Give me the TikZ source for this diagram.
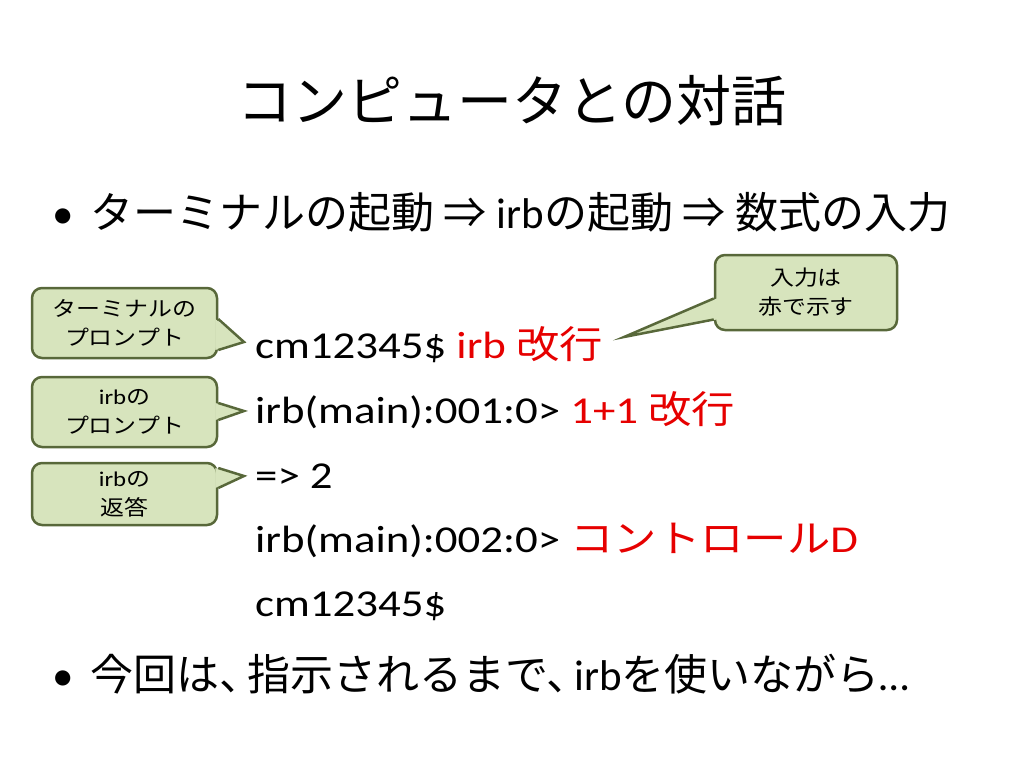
\documentclass[tikz,border=0pt]{standalone}
\usepackage{fontspec}
\setmainfont{Carlito}
\newfontfamily\jp{Noto Sans CJK JP}
\newfontfamily\latw{Carlito}[FakeStretch=1.18]
\newfontfamily\jpw{Noto Sans CJK JP}[FakeStretch=1.14]
\definecolor{boxfill}{HTML}{D7E4BD}
\definecolor{boxline}{RGB}{88,104,58}
\definecolor{inred}{RGB}{230,0,0}
\newcommand\tenten{、\kern-.35em}
\tikzset{
  titletext/.style={anchor=base, inner sep=0, font=\fontsize{55}{60}\selectfont},
  bullettext/.style={anchor=base west, inner sep=0, font=\fontsize{43}{48}\selectfont},
  codeline/.style={anchor=base west, inner sep=0, font=\fontsize{38}{44}\latw},
  tipbox/.style={draw=boxline, fill=boxfill, line width=2.5pt, rounded corners=10pt,
    align=center, inner sep=0, font=\fontsize{21}{29}\latw},
  tipedge/.style={draw=boxline, line width=2.5pt, line join=miter},
}
\begin{document}
\begin{tikzpicture}[x=1pt,y=-1pt]
\useasboundingbox (0,0) rectangle (1024,768);
% title and bullets
\node[titletext] (title) at (512,121) {\jp コンピュータとの対話};
\node[bullettext] (dot1) at (52,228) {•};
\node[bullettext] (item1) at (90,228) {{\jp ターミナルの起動} {\jp ⇒} irb{\jp の起動} {\jp ⇒} {\jp 数式の入力}};
\node[bullettext] (dot2) at (52,690) {•};
\node[bullettext] (item2) at (90,690) {{\jp 今回は\tenten 指示されるまで\tenten}irb{\jp を使いながら}…};
% session lines
\node[codeline] (l1) at (255,358) {cm12345\$ \textcolor{inred}{irb {\jpw 改行}}};
\node[codeline] (l2) at (255,423) {irb(main):001:0> \textcolor{inred}{1+1 {\jpw 改行}}};
\node[codeline] (l3) at (255,488) {=> 2};
\node[codeline] (l4) at (255,552) {irb(main):002:0> \textcolor{inred}{{\jpw コントロール}D}};
\node[codeline] (l5) at (255,616) {cm12345\$};
% callouts
\node[tipbox, minimum width=185pt, minimum height=70pt] (tprompt) at (124.5,323) {{\jpw ターミナルの}\\{\jpw プロンプト}};
\node[tipbox, minimum width=185pt, minimum height=70pt] (iprompt) at (124.5,412) {irb{\jpw の}\\{\jpw プロンプト}};
\node[tipbox, minimum width=185pt, minimum height=62pt] (ianswer) at (124.5,494) {irb{\jpw の}\\{\jpw 返答}};
\node[tipbox, minimum width=182pt, minimum height=75pt] (inred) at (806,292.5) {{\jpw 入力は}\\{\jpw 赤で示す}};
\coordinate (ttip) at (244,342);
\coordinate (itip) at (244,411);
\coordinate (atip) at (244,476);
\coordinate (rtip) at (624,337);
\fill[boxfill] ([xshift=-3pt,yshift=4pt]tprompt.east) -- (ttip) -- ([xshift=-3pt,yshift=-27pt]tprompt.east) -- cycle;
\draw[tipedge] ([yshift=4pt]tprompt.east) -- (ttip) -- ([yshift=-27pt]tprompt.east);
\fill[boxfill] ([xshift=-3pt,yshift=9pt]iprompt.east) -- (itip) -- ([xshift=-3pt,yshift=-8pt]iprompt.east) -- cycle;
\draw[tipedge] ([yshift=9pt]iprompt.east) -- (itip) -- ([yshift=-8pt]iprompt.east);
\fill[boxfill] ([xshift=-3pt,yshift=6pt]ianswer.east) -- (atip) -- ([xshift=-3pt,yshift=26pt]ianswer.east) -- cycle;
\draw[tipedge] ([yshift=6pt]ianswer.east) -- (atip) -- ([yshift=26pt]ianswer.east);
\fill[boxfill] ([xshift=3pt,yshift=-6pt]inred.west) -- (rtip) -- ([xshift=3pt,yshift=-27pt]inred.west) -- cycle;
\draw[tipedge] ([yshift=-6pt]inred.west) -- (rtip) -- ([yshift=-27pt]inred.west);
\end{tikzpicture}
\end{document}
